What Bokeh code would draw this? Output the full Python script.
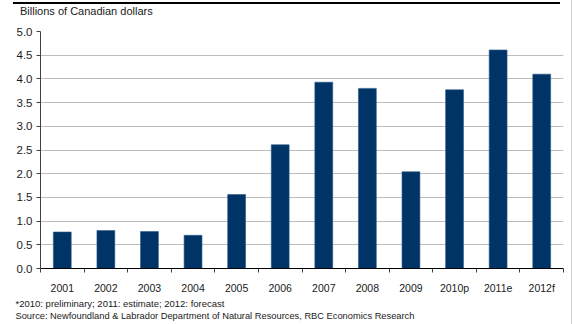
from bokeh.plotting import figure
from bokeh.models import (FixedTicker, NumeralTickFormatter, Title, Div,
                          ColumnDataSource, Range1d)
from bokeh.layouts import column, row
from bokeh.embed import file_html
from bokeh.resources import INLINE

categories = ["2001", "2002", "2003", "2004", "2005", "2006", "2007", "2008",
              "2009", "2010p", "2011e", "2012f"]
values = [0.77, 0.80, 0.78, 0.70, 1.56, 2.61, 3.93, 3.80, 2.04, 3.77, 4.61, 4.10]
y_ticks = [0.0, 0.5, 1.0, 1.5, 2.0, 2.5, 3.0, 3.5, 4.0, 4.5, 5.0]
y_title = "Billions of Canadian dollars"
note1 = "*2010: preliminary; 2011: estimate; 2012: forecast"
note2 = "Source: Newfoundland & Labrador Department of Natural Resources, RBC Economics Research"

FONT = "Liberation Sans"
TXT = "#1a1a1a"

xpos = [i + 0.5 for i in range(len(categories))]
src = ColumnDataSource(dict(x=xpos, top=values, cat=categories))

p = figure(width=571, height=306, output_backend="svg", toolbar_location=None,
           x_range=Range1d(0, len(categories)), y_range=Range1d(0, 5.0),
           min_border_left=40, min_border_right=8, min_border_top=13,
           min_border_bottom=56, margin=(0, 0, 0, 0))
p.outline_line_color = None
p.background_fill_color = "white"
p.border_fill_color = "white"

p.vbar(x="x", top="top", width=0.41, bottom=0, source=src,
       fill_color="#003366", line_color="#2a5a8a", line_width=0.6)

# y axis
p.yaxis.ticker = FixedTicker(ticks=y_ticks, minor_ticks=[])
p.yaxis.formatter = NumeralTickFormatter(format="0.0")
p.yaxis.axis_line_color = "#404040"
p.yaxis.major_tick_line_color = "#404040"
p.yaxis.major_tick_out = 4
p.yaxis.major_tick_in = 0
p.yaxis.minor_tick_line_color = None
p.yaxis.major_label_text_font = FONT
p.yaxis.major_label_text_font_size = "11.5px"
p.yaxis.major_label_text_color = TXT
p.yaxis.major_label_standoff = 4

# x axis: labels at centres, ticks at category boundaries
p.xaxis.ticker = FixedTicker(ticks=xpos, minor_ticks=list(range(len(categories) + 1)))
p.xaxis.major_label_overrides = {x: c for x, c in zip(xpos, categories)}
p.xaxis.axis_line_color = "black"
p.xaxis.axis_line_width = 1.2
p.xaxis.major_tick_line_color = None
p.xaxis.major_tick_out = 0
p.xaxis.major_tick_in = 0
p.xaxis.minor_tick_line_color = "#404040"
p.xaxis.minor_tick_out = 4
p.xaxis.minor_tick_in = 0
p.xaxis.major_label_text_font = FONT
p.xaxis.major_label_text_font_size = "10.5px"
p.xaxis.major_label_text_color = TXT
p.xaxis.major_label_standoff = 9

p.xgrid.grid_line_color = None
p.ygrid.grid_line_color = "#bdbdbd"
p.ygrid.grid_line_width = 1

p.add_layout(Title(text=note1, align="left", offset=-25, standoff=-1,
                   text_font=FONT, text_font_size="9.5px", text_color=TXT,
                   text_font_style="normal"), "below")
p.add_layout(Title(text=note2, align="left", offset=-25, standoff=1,
                   text_font=FONT, text_font_size="9.3px", text_color=TXT,
                   text_font_style="normal"), "below")

header = Div(text=y_title, width=547, height=16, margin=(2, 0, 0, 13),
             styles={"border-top": "2px solid black", "padding-left": "7px",
                     "font-family": FONT, "font-size": "11px",
                     "line-height": "14px", "color": TXT,
                     "box-sizing": "border-box", "white-space": "nowrap"})

edge = Div(text="", width=1, height=324, margin=(0, 0, 0, 0),
           styles={"background-color": "#d4d4d4"})

layout = row(column(header, p, spacing=0, margin=(0, 0, 0, 0)), edge,
             spacing=0, margin=(0, 0, 0, 0))
open("out.html", "w").write(file_html(layout, INLINE))
